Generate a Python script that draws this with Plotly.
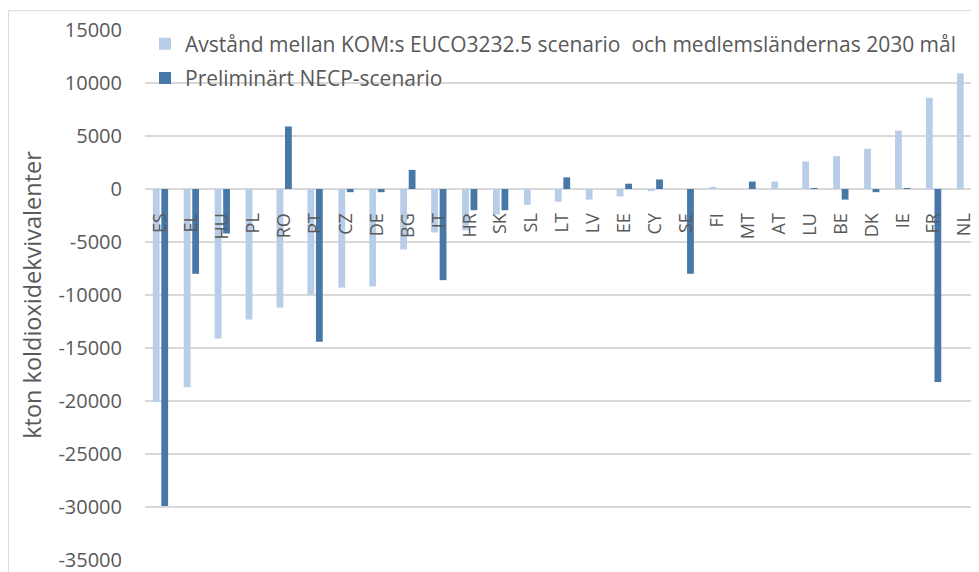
import plotly.graph_objects as go

# Länder och värden (kton koldioxidekvivalenter)
countries = ["ES", "EL", "HU", "PL", "RO", "PT", "CZ", "DE", "BG", "IT", "HR", "SK", "SL", "LT",
             "LV", "EE", "CY", "SE", "FI", "MT", "AT", "LU", "BE", "DK", "IE", "FR", "NL"]
gap_euco = [-20100, -18700, -14100, -12300, -11200, -10000, -9300, -9200, -5700, -4100, -3900,
            -2400, -1500, -1200, -1000, -700, -200, 0, 200, 0, 700, 2600, 3100, 3800, 5500, 8600, 10900]
necp = [-29900, -8000, -4200, 0, 5900, -14400, -300, -300, 1800, -8600, -2000, -2000, 0, 1100,
        0, 500, 900, -8000, 0, 700, 0, 50, -1000, -300, 50, -18200, 0]

# y-axelns skalsteg (bindestreck som minustecken, som i originalet)
y_ticks = [15000, 10000, 5000, 0, -5000, -10000, -15000, -20000, -25000, -30000, -35000]
y_labels = ["15000", "10000", "5000", "0", "-5000", "-10000", "-15000", "-20000",
            "-25000", "-30000", "-35000"]

name_gap = "Avstånd mellan KOM:s EUCO3232.5 scenario \u00a0och medlemsländernas 2030 mål"
name_necp = "Preliminärt NECP-scenario"

LIGHT = "#B8CDE8"
DARK = "#4878A8"
TEXT = "#595959"
FONT = "Open Sans"

fig = go.Figure()
fig.add_trace(go.Bar(x=countries, y=gap_euco, name=name_gap, marker_color=LIGHT,
                     marker_line_width=0, legendgroup="a"))
fig.add_trace(go.Bar(x=countries, y=necp, name=name_necp, marker_color=DARK,
                     marker_line_width=0, legendgroup="b"))

# ram runt diagrammet
fig.add_shape(type="rect", xref="paper", yref="paper",
              x0=-0.1635, x1=1.2, y0=-0.2, y1=1.0366,
              line=dict(color="#D9D9D9", width=1), fillcolor="rgba(0,0,0,0)", layer="below")

fig.update_layout(
    width=979, height=572,
    margin=dict(l=137, r=7, t=22, b=17),
    paper_bgcolor="white", plot_bgcolor="white",
    font=dict(family=FONT, size=20, color=TEXT),
    barmode="group", bargap=0.45, bargroupgap=0.2,
    showlegend=True,
    legend=dict(x=0.0, y=1.012, xanchor="left", yanchor="top",
                bgcolor="rgba(0,0,0,0)", font=dict(size=21, color=TEXT),
                tracegroupgap=4, itemwidth=30),
    xaxis=dict(type="category", anchor="free", position=0.7, side="bottom",
               tickangle=-90, ticks="outside", ticklen=16, tickcolor="rgba(0,0,0,0)",
               showline=False, showgrid=False, zeroline=False,
               tickfont=dict(size=18, color=TEXT)),
    yaxis=dict(range=[-35000, 15000], tickmode="array", tickvals=y_ticks, ticktext=y_labels,
               showgrid=True, gridcolor="#D9D9D9",
               gridwidth=1.5, zeroline=True, zerolinecolor="#D9D9D9", zerolinewidth=1.5,
               ticks="outside", ticklen=18, tickcolor="rgba(0,0,0,0)",
               tickfont=dict(size=20, color=TEXT),
               title=dict(text="kton koldioxidekvivalenter", font=dict(size=23.5, color=TEXT),
                          standoff=10)),
)

fig.write_html("out.html")
